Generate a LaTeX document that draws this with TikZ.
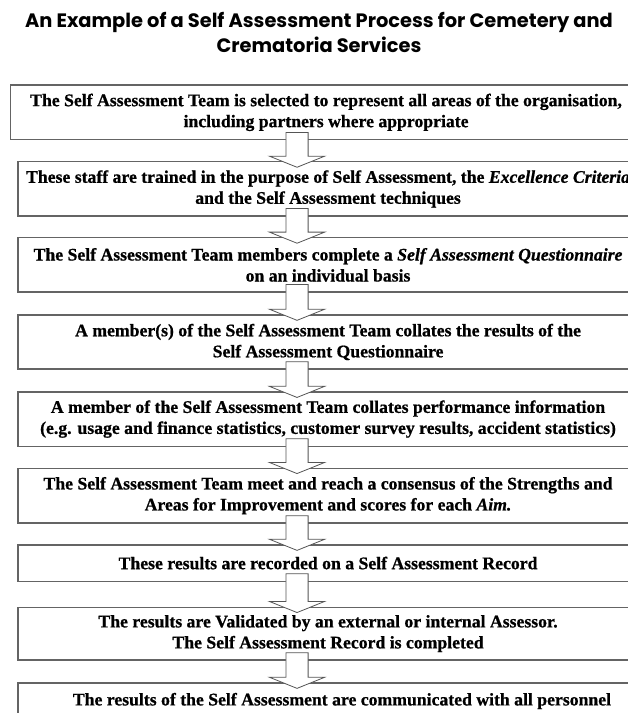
\documentclass[tikz,border=0pt]{standalone}
\usepackage{fontspec}
\setmainfont{Liberation Serif}[BoldFont={Liberation Serif Bold}, BoldItalicFont={Liberation Serif Bold Italic}, BoldFeatures={FakeBold=0.8}, BoldItalicFeatures={FakeBold=0.8}]
\newfontfamily\titlefont{Poppins}[BoldFont={Poppins Bold}]
\usetikzlibrary{calc}
\definecolor{framecol}{RGB}{100,100,100}
\definecolor{arrowcol}{RGB}{85,85,85}

% hollow block arrow from one step box down to the next
\newcommand{\stepArrow}[2]{%
  \draw[blockarrow] ($(#1.south -| axis)+(-0.39,0.28)$) -- ($(#2.north -| axis)+(-0.39,0.18)$)
    -- ++(-0.58,0) -- ($(#2.north -| axis)+(0,-0.21)$) -- ($(#2.north -| axis)+(0.97,0.18)$)
    -- ++(-0.58,0) -- ($(#1.south -| axis)+(0.39,0.28)$) -- cycle;}

\begin{document}
\begin{tikzpicture}[
    stepbox/.style={rectangle, draw=framecol, line width=1.2pt, minimum width=21.79cm, minimum height=1.9cm, align=center, font=\fontsize{17.7}{21}\selectfont\bfseries},
    blockarrow/.style={draw=arrowcol, fill=white, line width=0.8pt, line join=miter},
    heading/.style={align=center, font=\titlefont\bfseries\fontsize{19.4}{25}\selectfont},
]
\useasboundingbox (0,0) rectangle (22.04,-25.06);
\coordinate (axis) at (10.44,0);

\node[heading] (title) at (11.21,-1.14) {An Example of a Self Assessment Process for Cemetery and\\Crematoria Services};

\node[stepbox, minimum width=22.21cm, minimum height=1.93cm] (select) at (11.46,-3.95) {The Self Assessment Team is selected to represent all areas of the organisation,\\including partners where appropriate};
\node[stepbox] (train) at (11.53,-6.64) {These staff are trained in the purpose of Self Assessment, the \textit{Excellence Criteria}\\and the Self Assessment techniques};
\node[stepbox] (quest) at (11.53,-9.31) {The Self Assessment Team members complete a \textit{Self Assessment Questionnaire}\\on an individual basis};
\node[stepbox] (collate) at (11.53,-12.02) {A member(s) of the Self Assessment Team collates the results of the\\Self Assessment Questionnaire};
\node[stepbox] (perf) at (11.53,-14.73) {A member of the Self Assessment Team collates performance information\\(e.g. usage and finance statistics, customer survey results, accident statistics)};
\node[stepbox, minimum height=1.93cm] (consensus) at (11.53,-17.42) {The Self Assessment Team meet and reach a consensus of the Strengths and\\Areas for Improvement and scores for each \textit{Aim.}};
\node[stepbox, minimum height=1.27cm] (record) at (11.53,-19.79) {These results are recorded on a Self Assessment Record};
\node[stepbox, minimum height=1.86cm] (validate) at (11.53,-22.27) {The results are Validated by an external or internal Assessor.\\The Self Assessment Record is completed};
\node[stepbox, minimum width=22.78cm, minimum height=1.27cm] (comm) at (12.02,-24.64) {The results of the Self Assessment are communicated with all personnel};

\stepArrow{select}{train}
\stepArrow{train}{quest}
\stepArrow{quest}{collate}
\stepArrow{collate}{perf}
\stepArrow{perf}{consensus}
\stepArrow{consensus}{record}
\stepArrow{record}{validate}
\stepArrow{validate}{comm}
\end{tikzpicture}
\end{document}
